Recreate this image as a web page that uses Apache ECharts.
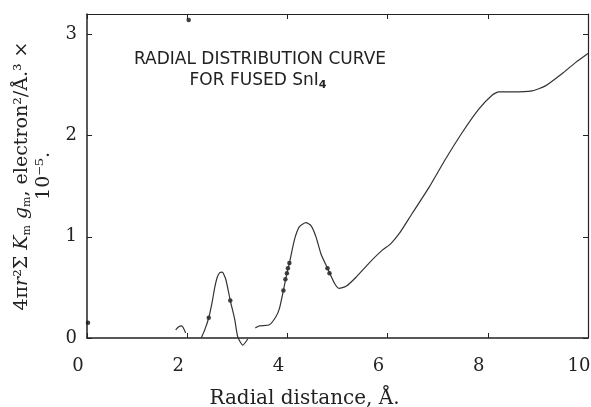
<!DOCTYPE html>
<html>
<head>
<meta charset="utf-8">
<script src="https://cdn.jsdelivr.net/npm/echarts@6/dist/echarts.min.js"></script>
<style>
  html, body { margin: 0; background: #fff; }
  #chart { width: 591px; height: 407px; }
</style>
</head>
<body>
<div id="chart"></div>
<script>
// small bump just below 2 A
const bumpX = [1.77, 1.83, 1.89, 1.97];
const bumpY = [0.08, 0.11, 0.12, 0.05];

// first peak (Sn-I distance)
const peakX = [2.28, 2.35, 2.43, 2.50, 2.55, 2.60, 2.65, 2.70, 2.77, 2.86, 2.95, 3.01, 3.11, 3.21];
const peakY = [0.00, 0.08, 0.20, 0.36, 0.50, 0.60, 0.645, 0.65, 0.58, 0.37, 0.18, 0.01, -0.07, -0.01];

// main curve from 3.4 A to the end
const mainX = [3.36, 3.44, 3.64, 3.77, 3.84, 3.92, 3.99, 4.04, 4.14, 4.24, 4.37, 4.47, 4.57, 4.67,
  4.80, 4.94, 5.03, 5.17, 5.37, 5.63, 5.90, 6.06, 6.23, 6.49, 6.83, 7.16, 7.49, 7.82, 8.09, 8.22,
  8.48, 8.88, 9.15, 9.48, 9.75, 10.0];
const mainY = [0.10, 0.12, 0.13, 0.21, 0.29, 0.47, 0.64, 0.74, 0.97, 1.10, 1.14, 1.11, 1.00, 0.83,
  0.69, 0.54, 0.49, 0.51, 0.60, 0.74, 0.87, 0.93, 1.03, 1.23, 1.49, 1.77, 2.03, 2.26, 2.40, 2.43,
  2.43, 2.44, 2.49, 2.61, 2.72, 2.81];

// measured points drawn as dots
const dotX = [0.02, 2.03, 2.43, 2.86, 3.92, 3.96, 3.99, 4.01, 4.04, 4.80, 4.84];
const dotY = [0.15, 3.14, 0.20, 0.37, 0.47, 0.58, 0.64, 0.69, 0.74, 0.69, 0.64];

const xMin = 0, xMax = 10, xStep = 2;
const yMin = 0, yMax = 3.2, yStep = 1;

const zip = (xs, ys) => xs.map((x, i) => [x, ys[i]]);

const ink = '#222';
const serif = 'DejaVu Serif';

const chart = echarts.init(document.getElementById('chart'));

const lineSeries = (data) => ({
  type: 'line',
  data: data,
  smooth: 0.2,
  showSymbol: false,
  clip: false,
  lineStyle: { color: '#333', width: 1.2 },
  silent: true
});

const option = {
  animation: false,
  backgroundColor: '#fff',
  grid: { left: 87, right: 3, top: 14, bottom: 69, outerBoundsMode: 'none', containLabel: false },
  xAxis: [{
    type: 'value',
    min: xMin, max: xMax, interval: xStep,
    name: 'Radial distance, Å.',
    nameLocation: 'middle',
    nameGap: 51,
    nameTextStyle: { fontFamily: serif, fontSize: 20, color: ink, padding: [0, 66, 0, 0] },
    axisLine: { onZero: false, lineStyle: { color: ink, width: 1.5 } },
    axisTick: { inside: true, length: 5, lineStyle: { color: ink } },
    axisLabel: { fontFamily: serif, fontSize: 18, color: ink, margin: 19, padding: [0, 18, 0, 0] },
    splitLine: { show: false }
  }, {
    type: 'value',
    position: 'top',
    min: xMin, max: xMax, interval: xStep,
    axisLine: { onZero: false, lineStyle: { color: ink, width: 1.2 } },
    axisTick: { inside: true, length: 5, lineStyle: { color: ink } },
    axisLabel: { show: false },
    splitLine: { show: false }
  }],
  yAxis: [{
    type: 'value',
    min: yMin, max: yMax, interval: yStep,
    name: '{t|4π}{i|r}{t|²Σ }{i|K}{s|m}{t| }{i|g}{s|m}{t|, electron²/Å.³ ×}\n{t|10⁻⁵.}',
    nameLocation: 'middle',
    nameRotate: 90,
    nameGap: 24,
    nameTextStyle: {
      color: ink,
      fontFamily: serif,
      fontSize: 19,
      lineHeight: 22,
      rich: {
        t: { fontFamily: serif, fontSize: 19, color: ink, lineHeight: 22 },
        i: { fontFamily: serif, fontSize: 19, fontStyle: 'italic', color: ink, lineHeight: 22 },
        s: { fontFamily: serif, fontSize: 11, color: ink, lineHeight: 22, verticalAlign: 'bottom' }
      }
    },
    axisLine: { show: true, onZero: false, lineStyle: { color: ink, width: 1.5 } },
    axisTick: { show: true, inside: true, length: 5, lineStyle: { color: ink } },
    axisLabel: {
      fontFamily: serif, fontSize: 18, color: ink, margin: 10,
      formatter: v => (Number.isInteger(v) ? String(v) : '')
    },
    splitLine: { show: false }
  }, {
    type: 'value',
    position: 'right',
    min: yMin, max: yMax, interval: yStep,
    axisLine: { show: true, onZero: false, lineStyle: { color: ink, width: 1.2 } },
    axisTick: { show: true, inside: true, length: 5, lineStyle: { color: ink } },
    axisLabel: { show: false },
    splitLine: { show: false }
  }],
  graphic: [{
    type: 'text',
    x: 260, y: 60,
    style: {
      text: 'RADIAL DISTRIBUTION CURVE',
      fontFamily: 'DejaVu Sans', fontSize: 17, fill: ink,
      align: 'center', verticalAlign: 'middle'
    }
  }, {
    type: 'text',
    x: 258, y: 81,
    style: {
      text: '{a|FOR FUSED SnI}{b|4}',
      align: 'center', verticalAlign: 'middle',
      rich: {
        a: { fontFamily: 'DejaVu Sans', fontSize: 17, fill: ink, lineHeight: 20 },
        b: { fontFamily: 'DejaVu Sans', fontSize: 11, fontWeight: 'bold', fill: ink, lineHeight: 20, verticalAlign: 'bottom' }
      }
    }
  }],
  series: [
    lineSeries(zip(bumpX, bumpY)),
    lineSeries(zip(peakX, peakY)),
    lineSeries(zip(mainX, mainY)),
    {
      type: 'scatter',
      data: zip(dotX, dotY),
      symbol: 'circle',
      symbolSize: 4.5,
      clip: false,
      itemStyle: { color: '#111' },
      silent: true
    }
  ]
};

chart.setOption(option);
</script>
</body>
</html>
